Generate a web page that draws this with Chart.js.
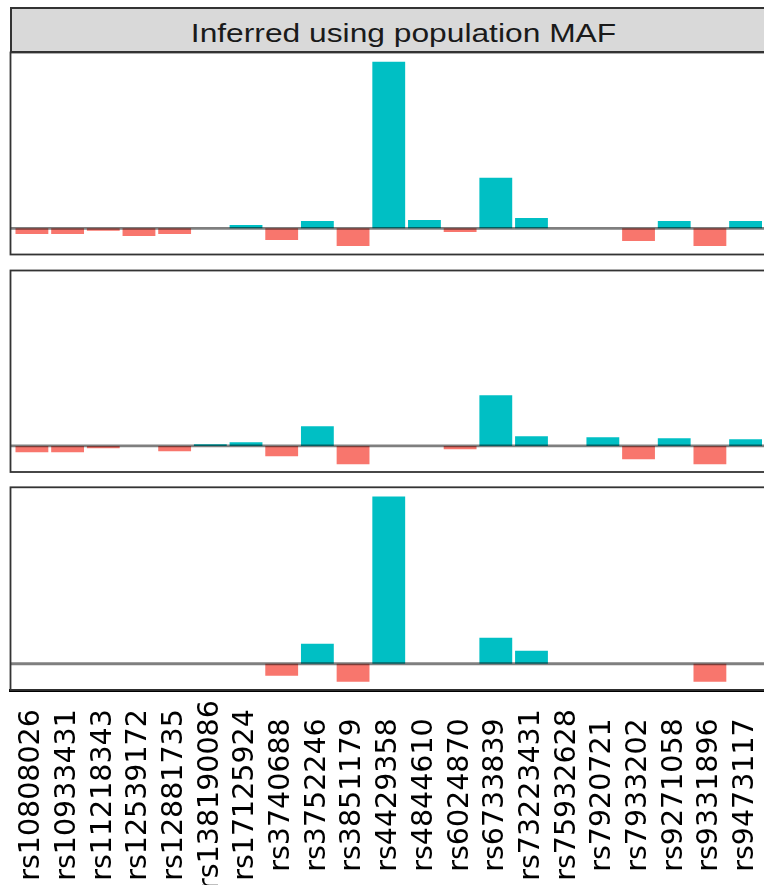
<!DOCTYPE html>
<html>
<head>
<meta charset="utf-8">
<script src="https://cdn.jsdelivr.net/npm/chart.js@4.4.1/dist/chart.umd.min.js"></script>
<style>
  html, body { margin: 0; padding: 0; background: #fff; }
  #wrap { position: relative; width: 764px; height: 885px; overflow: hidden; }
  #wrap canvas { position: absolute; left: 0; }
  #strip { position: absolute; left: 9.5px; top: 6.5px; width: 788px; height: 46px;
           box-sizing: border-box; background: #d9d9d9; border: 2px solid #333; }
  #stripText { position: absolute; left: 0; width: 807px; top: 20.5px; text-align: center;
               font: 25px "Liberation Sans", Arial, sans-serif; line-height: 25px; color: #1a1a1a;
               transform: scaleX(1.27); transform-origin: 403.5px 0; white-space: nowrap; }
</style>
</head>
<body>
<div id="wrap">
  <div id="strip"></div>
  <div id="stripText">Inferred using population MAF</div>
  <canvas id="p1" width="790" height="211" style="top:48px"></canvas>
  <canvas id="p2" width="790" height="210" style="top:266px"></canvas>
  <canvas id="p3" width="790" height="402" style="top:483px"></canvas>
</div>
<script>
const SNPS = ['rs10808026', 'rs10933431', 'rs11218343', 'rs12539172', 'rs12881735', 'rs138190086',
  'rs17125924', 'rs3740688', 'rs3752246', 'rs3851179', 'rs4429358', 'rs4844610', 'rs6024870',
  'rs6733839', 'rs73223431', 'rs75932628', 'rs7920721', 'rs7933202', 'rs9271058', 'rs9331896', 'rs9473117'];

const PANEL_TOP = [-0.034, -0.034, -0.014, -0.046, -0.034, 0, 0.02, -0.07, 0.044, -0.106, 1.0,
  0.05, -0.022, 0.303, 0.062, 0, 0, -0.076, 0.044, -0.106, 0.044];
const PANEL_MID = [-0.038, -0.038, -0.014, 0, -0.032, 0.01, 0.022, -0.062, 0.118, -0.11, 0,
  0, -0.02, 0.305, 0.058, 0, 0.052, -0.08, 0.046, -0.11, 0.04];
const PANEL_BOT = [0, 0, 0, 0, 0, 0, 0, -0.072, 0.12, -0.108, 1.0,
  0, 0, 0.156, 0.078, 0, 0, 0, 0, -0.108, 0];

const Y_MIN = -0.157, Y_MAX = 1.055;
const X_MIN = -0.6, X_MAX = SNPS.length - 1 + 0.6;
const POS = '#00BFC4', NEG = '#F8766D';

// panel border + zero reference line drawn over the bars
const panelFrame = {
  id: 'panelFrame',
  afterDatasetsDraw(chart) {
    const { ctx, chartArea: a } = chart;
    const y0 = chart.scales.y.getPixelForValue(0);
    ctx.save();
    ctx.strokeStyle = 'rgba(0,0,0,0.5)';
    ctx.lineWidth = 2.8;
    ctx.beginPath(); ctx.moveTo(a.left, y0); ctx.lineTo(a.right, y0); ctx.stroke();
    ctx.strokeStyle = '#333';
    ctx.lineWidth = 1.8;
    ctx.strokeRect(a.left, a.top, a.right - a.left, a.bottom - a.top);
    ctx.restore();
  }
};

function makePanel(id, values, showX, pad) {
  const xScale = {
    type: 'linear', min: X_MIN, max: X_MAX, offset: false, display: showX,
    grid: { display: false, offset: false },
    border: { display: showX, color: '#000', width: 3 },
    afterBuildTicks: s => { s.ticks = SNPS.map((_, i) => ({ value: i })); },
    ticks: {
      autoSkip: false, minRotation: 90, maxRotation: 90, padding: 97,
      color: '#000', font: { family: '"DejaVu Sans", sans-serif', size: 28.5 },
      callback: v => SNPS[v]
    }
  };
  if (showX) {
    xScale.beforeUpdate = s => { s._getXAxisLabelAlignment = () => 'center'; };
    xScale.afterFit = s => { s.height = 195; s.paddingLeft = 0; s.paddingRight = 0; };
  }
  return new Chart(document.getElementById(id), {
    type: 'bar',
    data: {
      datasets: [{
        data: values.map((v, i) => ({ x: i, y: v })),
        backgroundColor: c => (c.raw && c.raw.y < 0 ? NEG : POS),
        borderWidth: 0,
        categoryPercentage: 1,
        barPercentage: 0.92
      }]
    },
    options: {
      responsive: false,
      animation: false,
      layout: { padding: pad },
      scales: {
        x: xScale,
        y: { min: Y_MIN, max: Y_MAX, display: false }
      },
      plugins: { legend: { display: false }, tooltip: { enabled: false } }
    },
    plugins: [panelFrame]
  });
}

makePanel('p1', PANEL_TOP, false, { left: 10.5, right: 23, top: 4.5, bottom: 4.5 });
makePanel('p2', PANEL_MID, false, { left: 10.5, right: 23, top: 4.5, bottom: 4 });
makePanel('p3', PANEL_BOT, true, { left: 10.5, right: 23, top: 4.3, bottom: 0 });
</script>
</body>
</html>
